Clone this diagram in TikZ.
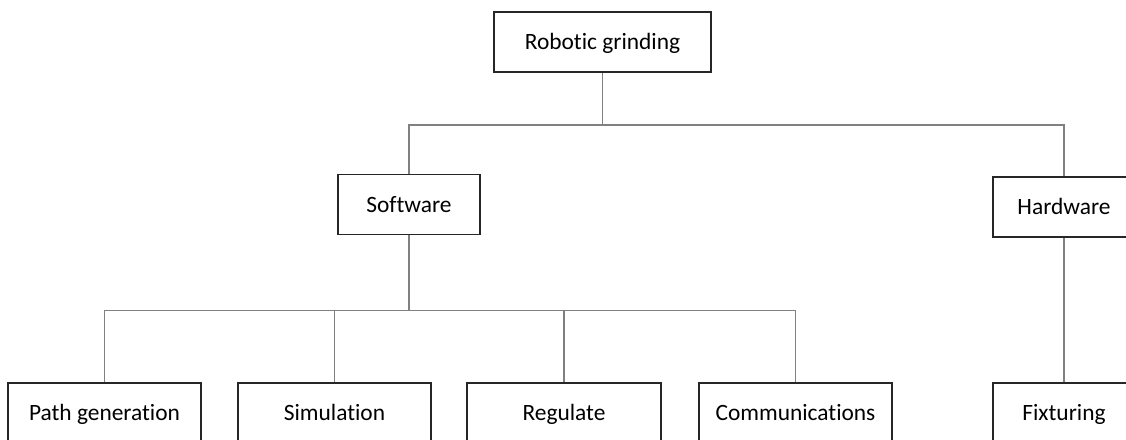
\documentclass[tikz,border=0pt]{standalone}
\usepackage{fontspec}
\setmainfont{Carlito}[Ligatures=NoCommon]
\usepackage{tikz}
\usetikzlibrary{positioning}

\begin{document}
\begin{tikzpicture}[
  x=1pt, y=-1pt,
  box/.style={draw=black!85, line width=1.8pt, fill=white, align=center,
              minimum height=60pt, inner sep=0pt,
              text height=20pt, text depth=5pt,
              font=\fontsize{23.4}{28}\selectfont},
  conn/.style={draw=black!50, line width=1.6pt},
]
\clip (0,0) rectangle (1126,439);

% Wurzel
\node[box, minimum width=217pt] (root) at (602.5,42) {Robotic grinding};

% Zweite Ebene
\node[box, minimum width=142pt] (sw) at (409,204.5) {Software};
\node[box, minimum width=142pt] (hw) at (1064,207) {Hardware};

% Unterste Ebene
\node[box, minimum width=193pt] (pg)  at (104.5,413) {Path generation};
\node[box, minimum width=193pt] (sim) at (334.5,413) {Simulation};
\node[box, minimum width=194pt] (reg) at (564,413)   {Regulate};
\node[box, minimum width=193pt] (com) at (795.5,413) {Communications};
\node[box, minimum width=142pt] (fix) at (1064,413)  {Fixturing};

% Verbindungen
\foreach \n in {sw,hw}
  \draw[conn] (root.south) -- ++(0,52) -| (\n.north);
\foreach \n in {pg,sim,reg,com}
  \draw[conn] (sw.south) -- ++(0,75) -| (\n.north);
\draw[conn] (hw.south) -- (fix.north);

\end{tikzpicture}
\end{document}
